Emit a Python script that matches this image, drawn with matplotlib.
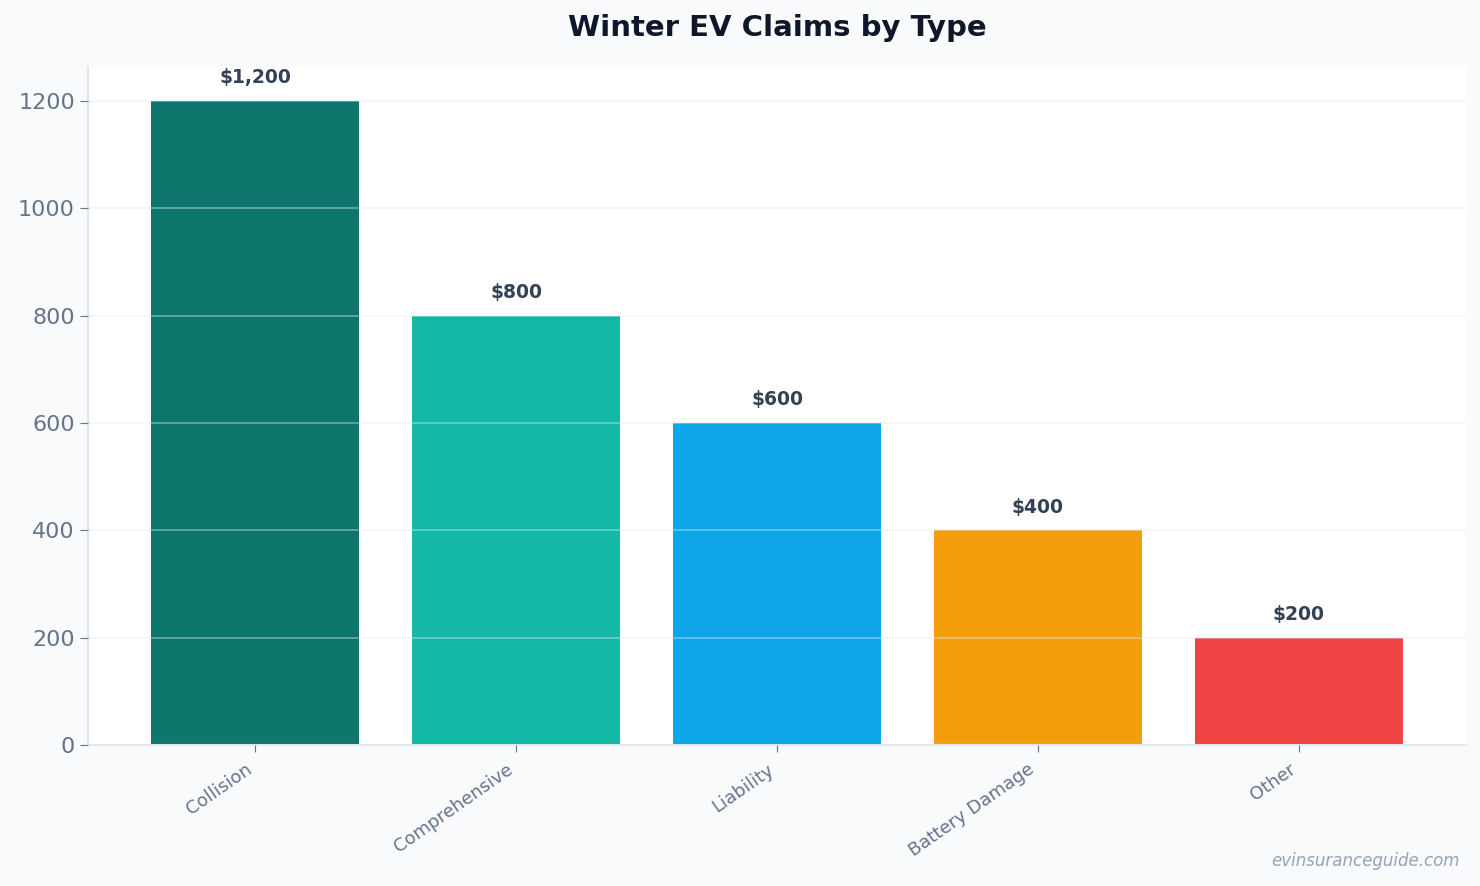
import matplotlib.pyplot as plt

# Data
categories = ["Collision", "Comprehensive", "Liability", "Battery Damage", "Other"]
claims = [1200, 800, 600, 400, 200]
colors = ["#0f766e", "#14b8a6", "#0ea5e9", "#f59e0b", "#ef4444"]

fig = plt.figure(figsize=(14.8, 8.86), dpi=100, facecolor="#f8fafc")
ax = fig.add_axes([0.0595, 0.1591, 0.931, 0.7653])
ax.set_facecolor("white")

x = range(len(categories))
ax.bar(x, claims, width=0.8, color=colors, zorder=2)

# value labels above bars
for xi, v in zip(x, claims):
    ax.text(xi, v + 25, f"${v:,}", ha="center", va="bottom",
            fontsize=13.5, fontweight="bold", color="#334155")

ax.set_xlim(-0.64, len(categories) - 1 + 0.64)
ax.set_ylim(0, 1263)
ax.set_yticks([0, 200, 400, 600, 800, 1000, 1200])

# grid drawn on top of bars, faint
ax.grid(axis="y", color="#e2e8f0", alpha=0.45, linewidth=1.2, zorder=3)
ax.set_axisbelow(False)

ax.set_xticks(list(x))
ax.set_xticklabels(categories, rotation=35, ha="right",
                   fontsize=13, color="#64748b")
ax.tick_params(axis="y", labelsize=16, labelcolor="#64748b", color="#64748b", length=6)
ax.tick_params(axis="x", color="#64748b", length=5, pad=6)

for side in ["top", "right"]:
    ax.spines[side].set_visible(False)
for side in ["left", "bottom"]:
    ax.spines[side].set_color("#e2e8f0")
    ax.spines[side].set_linewidth(1.5)

ax.set_title("Winter EV Claims by Type", pad=22, fontsize=21,
             fontweight="bold", color="#0f172a")

fig.text(0.986, 0.018, "evinsuranceguide.com", ha="right", va="bottom",
         fontsize=12, style="italic", color="#94a3b8")

fig.savefig("out.png", dpi=100, facecolor=fig.get_facecolor())
